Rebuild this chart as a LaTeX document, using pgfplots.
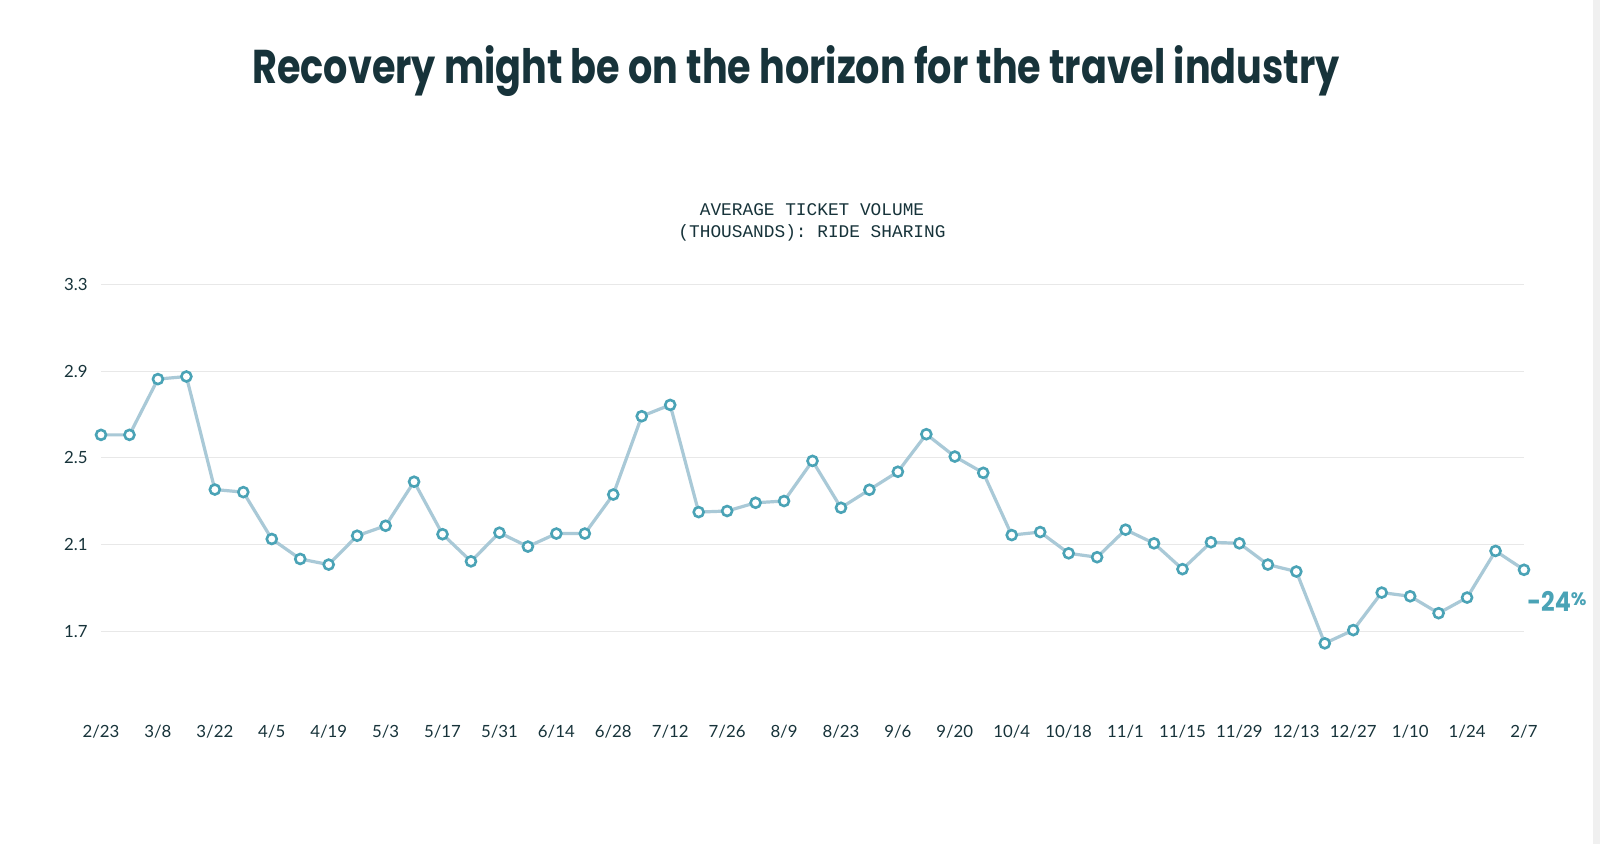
\documentclass[border=0pt]{standalone}
\usepackage{fontspec}
\setmainfont{Lato}
\newfontfamily\titlefont{Poppins}
\newfontfamily\monofont{Liberation Mono}
\usepackage{pgfplots}
\pgfplotsset{compat=1.18}
\usepackage{graphicx}
\definecolor{darktxt}{HTML}{17333A}
\definecolor{linec}{HTML}{A9C9D7}
\definecolor{markc}{HTML}{4AA3B6}
\definecolor{gridc}{HTML}{E8E8E8}
\begin{document}
\begin{tikzpicture}[x=1pt,y=1pt]
\fill[white] (0,0) rectangle (800,-422);
\fill[black!6] (796.5,0) rectangle (800,-422);
\node[anchor=base, inner sep=0pt, text=darktxt] at (398,-42)
  {\scalebox{0.805}[1]{\titlefont\bfseries\fontsize{23.7pt}{28pt}\selectfont Recovery might be on the horizon for the travel industry}};
\node[anchor=base, inner sep=0pt, text=darktxt] at (406,-108) {\monofont\fontsize{8.9pt}{11pt}\selectfont AVERAGE TICKET VOLUME};
\node[anchor=base, inner sep=0pt, text=darktxt] at (406,-119) {\monofont\fontsize{8.9pt}{11pt}\selectfont (THOUSANDS): RIDE SHARING};
\begin{axis}[
  at={(50.5pt,-337.4pt)}, anchor=south west,
  scale only axis, width=711.5pt, height=195.25pt,
  xmin=0, xmax=50, ymin=1.5, ymax=3.3,
  axis line style={draw=none},
  major tick length=0pt,
  xtick={0,2,...,50},
  xticklabels={2/23,3/8,3/22,4/5,4/19,5/3,5/17,5/31,6/14,6/28,7/12,7/26,8/9,8/23,9/6,9/20,10/4,10/18,11/1,11/15,11/29,12/13,12/27,1/10,1/24,2/7},
  ytick={1.7,2.1,2.5,2.9,3.3},
  ymajorgrids, grid style={gridc, line width=0.5pt},
  /pgf/number format/assume math mode=true,
  tick label style={font=\fontsize{8.4pt}{9pt}\selectfont, text=darktxt, inner sep=0pt},
  xticklabel style={anchor=base, yshift=-31.1pt},
  yticklabel style={anchor=east, xshift=-6.5pt, /pgf/number format/fixed, /pgf/number format/fixed zerofill, /pgf/number format/precision=1},
  clip=false,
]
\addplot[color=linec, line width=1.6pt, mark=*, mark size=2.5pt,
  mark options={draw=markc, fill=white, line width=1.3pt}] coordinates {
(0,2.606) (1,2.606) (2,2.863) (3,2.875) (4,2.354) (5,2.342) (6,2.126) (7,2.034)
(8,2.008) (9,2.141) (10,2.187) (11,2.390) (12,2.148) (13,2.023) (14,2.155) (15,2.091)
(16,2.151) (17,2.151) (18,2.331) (19,2.692) (20,2.744) (21,2.250) (22,2.255) (23,2.293)
(24,2.301) (25,2.486) (26,2.270) (27,2.353) (28,2.436) (29,2.609) (30,2.506) (31,2.431)
(32,2.144) (33,2.158) (34,2.060) (35,2.042) (36,2.169) (37,2.106) (38,1.987) (39,2.111)
(40,2.106) (41,2.008) (42,1.976) (43,1.645) (44,1.706) (45,1.879) (46,1.862) (47,1.784)
(48,1.856) (49,2.071) (50,1.984)
};
\node[anchor=west, inner sep=0pt, text=markc, font=\titlefont\bfseries\fontsize{13.5pt}{15pt}\selectfont] at (axis cs:50,1.84) {\hspace{1.5pt}\scalebox{0.88}[1]{-24}\raisebox{2.6pt}{\fontsize{9pt}{10pt}\selectfont\%}};
\end{axis}
\end{tikzpicture}
\end{document}
